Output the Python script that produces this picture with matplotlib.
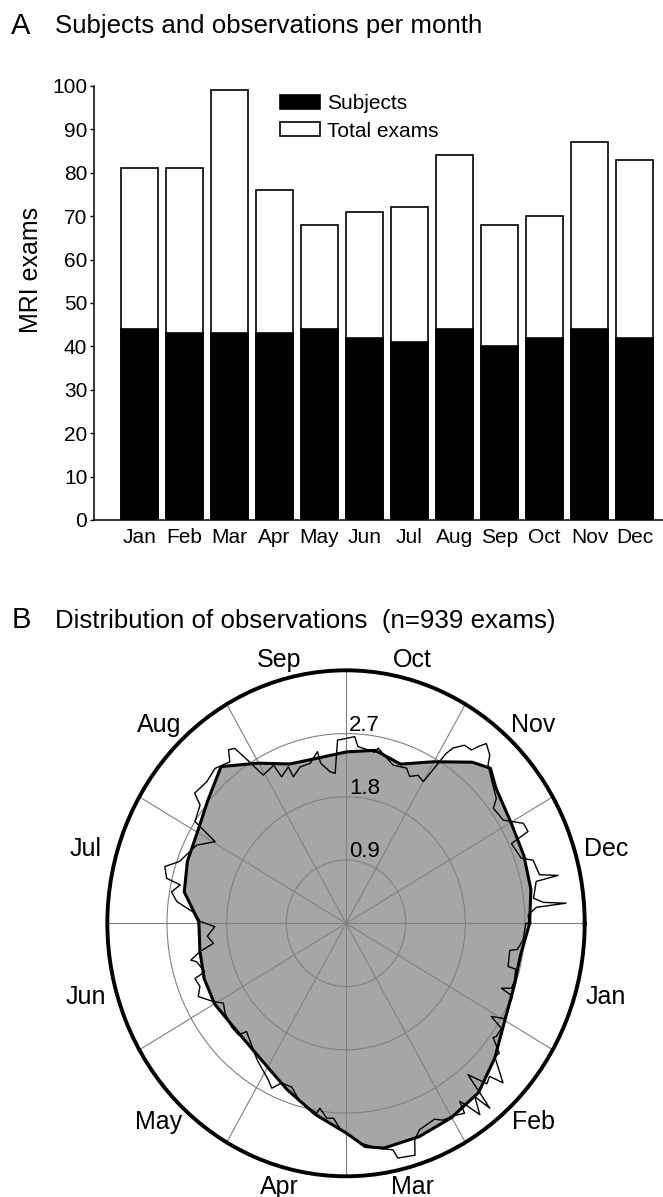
import numpy as np
import matplotlib
matplotlib.use('Agg')
import matplotlib.pyplot as plt

plt.rcParams['font.family'] = ['Liberation Sans', 'DejaVu Sans']

# panel A: exams per calendar month
months = ['Jan', 'Feb', 'Mar', 'Apr', 'May', 'Jun',
	'Jul', 'Aug', 'Sep', 'Oct', 'Nov', 'Dec']
subjects = [44, 43, 43, 43, 44, 42, 41, 44, 40, 42, 44, 42]
total_exams = [81, 81, 99, 76, 68, 71, 72, 84, 68, 70, 87, 83]

# panel B: smoothed rate (grey area) and raw daily rate, by day of year
smooth_day = [1, 11, 21, 31, 42, 52, 62, 72, 82, 87, 92, 97, 102, 113,
	123, 133, 143, 153, 163, 173, 184, 194, 204, 214, 224, 234, 244,
	254, 265, 275, 285, 295, 305, 315, 320, 325, 336, 346, 356]
smooth_rate = [2.77, 2.67, 2.69, 2.76, 2.95, 3.13, 3.19, 3.23, 3.25,
	3.19, 2.99, 2.86, 2.76, 2.53, 2.36, 2.27, 2.25, 2.29, 2.28, 2.24,
	2.22, 2.48, 2.55, 2.59, 2.72, 2.92, 2.64, 2.42, 2.39, 2.44, 2.50,
	2.41, 2.65, 2.98, 3.10, 2.97, 2.87, 2.85, 2.83]

daily_day = [1.2, 6.2, 9.3, 10.0, 15.3, 15.5, 18.8, 21.6, 22.8, 23.8,
	26.0, 30.9, 32.6, 34.0, 36.9, 37.7, 40.2, 41.8, 45.4, 46.8, 48.7,
	51.2, 52.2, 53.5, 55.2, 56.8, 57.7, 58.3, 61.3, 64.3, 66.3, 71.3,
	73.4, 74.5, 78.9, 79.7, 84.0, 88.4, 92.3, 94.1, 96.2, 98.3, 100.9,
	101.7, 107.8, 111.9, 115.7, 118.1, 120.3, 127.4, 137.1, 138.5,
	142.5, 147.9, 151.5, 154.0, 158.1, 161.0, 164.2, 165.3, 169.7,
	170.7, 173.0, 175.3, 178.4, 182.1, 184.2, 187.1, 190.5, 193.3,
	196.0, 197.0, 200.2, 203.1, 207.2, 210.2, 214.4, 216.4, 221.4,
	223.1, 227.9, 232.3, 236.9, 238.6, 240.3, 241.8, 243.7, 248.5,
	249.4, 253.1, 253.6, 257.2, 261.2, 264.6, 265.1, 268.3, 270.3,
	271.9, 274.8, 277.6, 278.9, 282.6, 285.0, 285.9, 292.5, 297.5,
	299.8, 302.4, 305.2, 306.7, 307.2, 308.1, 310.4, 312.8, 313.7,
	314.9, 317.5, 318.9, 322.4, 327.4, 329.1, 333.8, 337.6, 340.2,
	341.2, 346.4, 348.1, 352.5, 353.8, 354.1, 358.7, 360.2, 361.0,
	361.4, 363.5, 365.7]
daily_rate = [2.71, 2.68, 2.61, 2.50, 2.52, 2.64, 2.67, 2.66, 2.52, 2.72,
	2.72, 2.76, 2.56, 2.78, 2.78, 2.75, 2.96, 2.94, 3.28, 3.07, 3.12,
	2.83, 3.41, 3.14, 3.39, 3.15, 3.06, 3.24, 3.18, 3.16, 3.09, 3.14,
	3.25, 3.46, 3.43, 3.30, 3.23, 3.13, 2.99, 2.92, 2.78, 2.79, 2.66,
	2.74, 2.63, 2.47, 2.47, 2.60, 2.52, 2.36, 2.15, 2.27,
	2.27, 2.23, 2.17, 2.29, 2.46, 2.38, 2.41, 2.24, 2.32,
	2.40, 2.24, 2.02, 2.10, 1.98, 2.20, 2.28, 2.57, 2.67,
	2.56, 2.78, 2.85, 2.66, 2.57, 2.51, 2.29, 2.70, 2.77,
	2.94, 2.91, 2.96, 2.89, 3.04, 3.00, 2.74, 2.45, 2.50,
	2.30, 2.39, 2.23, 2.33, 2.34, 2.48, 2.31, 2.17, 2.14,
	2.61, 2.63, 2.66, 2.52, 2.49, 2.47, 2.54, 2.36, 2.39,
	2.30, 2.37, 2.33, 2.70, 2.85, 2.97, 3.10, 3.11, 3.21,
	3.32, 3.23, 3.11, 3.00, 2.88, 2.76, 2.79, 3.03, 3.04,
	2.74, 2.80, 2.96, 3.00, 3.27, 2.93, 2.85, 2.99, 3.33,
	2.88, 2.75, 2.76]

r_ticks = [0.9, 1.8, 2.7]
r_max = 3.6
n_exams = 939


def day_to_theta(d):
	# day 1 sits on the east axis, year runs clockwise
	return (np.asarray(d, dtype=float) - 1) / 365 * 2 * np.pi


def closed(th, r):
	th = np.append(th, th[0] + 2 * np.pi)
	r = np.append(r, r[0])
	return th, r


fig = plt.figure(figsize=(6.63, 11.97), dpi=100)

# ---- A: bars
ax = fig.add_axes([0.1422, 0.5656, 0.8578, 0.3626])
x = np.arange(len(months))
b_tot = ax.bar(x, total_exams, width=0.833, color='white',
	edgecolor='black', lw=1.2, label='Total exams')
b_sub = ax.bar(x, subjects, width=0.833, color='black',
	edgecolor='black', lw=1.2, label='Subjects')
ax.set_xlim(-1.0, 11.63)
ax.set_ylim(0, 100)
ax.set_yticks(range(0, 101, 10))
ax.set_xticks(x)
ax.set_xticklabels(months)
ax.tick_params(axis='x', length=0, pad=6, labelsize=15)
ax.tick_params(axis='y', direction='out', length=3, width=1,
	pad=2, labelsize=15)
for s in ['top', 'right']:
	ax.spines[s].set_visible(False)
for s in ['left', 'bottom']:
	ax.spines[s].set_linewidth(1.1)
ax.legend([b_sub, b_tot], ['Subjects', 'Total exams'],
	loc='upper left', bbox_to_anchor=(0.3265, 0.981),
	frameon=False, fontsize=15, borderpad=0, borderaxespad=0,
	handlelength=1.92, handleheight=0.62, handletextpad=0.36,
	labelspacing=0.4)
fig.text(0.0475, 0.7744, 'MRI exams', rotation=90, fontsize=18,
	ha='center', va='center')

fig.text(0.016, 1 - 33.5 / 1197, 'A', fontsize=21, va='baseline')
fig.text(0.083, 1 - 33.5 / 1197, 'Subjects and observations per month',
	fontsize=18.6, va='baseline')

# ---- B: circular distribution
fig.text(0.018, 1 - 628.3 / 1197, 'B', fontsize=21, va='baseline')
fig.text(0.083, 1 - 628.3 / 1197,
	'Distribution of observations  (n={} exams)'.format(n_exams),
	fontsize=18.6, va='baseline')

pax = fig.add_axes([0.1619, 0.0173, 0.72, 0.4227], projection='polar')
pax.set_aspect('auto')
pax.set_theta_zero_location('E')
pax.set_theta_direction(-1)

th_s, r_s = closed(day_to_theta(smooth_day), smooth_rate)
th_d, r_d = closed(day_to_theta(daily_day), daily_rate)
pax.fill(th_s, r_s, color='#a6a6a6', lw=0, zorder=1)
pax.plot(th_d, r_d, color='black', lw=1.0, zorder=3)
pax.plot(th_s, r_s, color='black', lw=2.2, zorder=4)

pax.set_ylim(0, r_max)
pax.set_yticks(r_ticks)
pax.set_yticklabels([])
pax.set_xticks(np.deg2rad(np.arange(0, 360, 30)))
pax.set_xticklabels([])
pax.grid(True, color='#808080', lw=0.8)
pax.spines['polar'].set_linewidth(2.8)

for rt in r_ticks:
	pax.annotate('{}'.format(rt), xy=(1.5 * np.pi, rt), xytext=(2, 2),
		textcoords='offset points', ha='left', va='baseline',
		fontsize=16, zorder=5)

for i, m in enumerate(months):
	th = np.deg2rad(15 + 30 * i)
	rr = r_max * (1.06 + 0.07 * abs(np.cos(th)))
	pax.text(th, rr, m, ha='center', va='center', fontsize=18)

fig.savefig('out.png', dpi=100)
